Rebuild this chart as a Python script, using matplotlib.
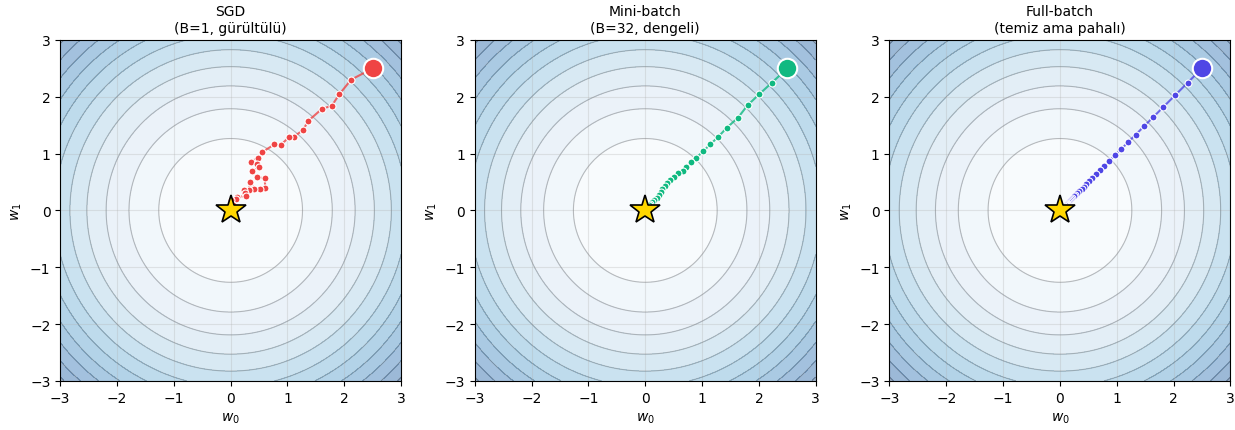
import numpy as np
import matplotlib
matplotlib.use('Agg')
import matplotlib.pyplot as plt

# loss surface grid
grid = np.linspace(-3, 3, 200)

# optimizer paths (w0, w1), starting at (2.5, 2.5)
sgd_w0 = [2.50, 2.12, 1.91, 1.78, 1.61, 1.36, 1.28, 1.12, 1.03, 0.88, 0.77, 0.56,
          0.48, 0.35, 0.47, 0.50, 0.38, 0.46, 0.60, 0.61, 0.52, 0.42, 0.34, 0.32,
          0.23, 0.26, 0.27, 0.12, 0.10, 0.00, 0.05]
sgd_w1 = [2.50, 2.30, 2.04, 1.84, 1.79, 1.57, 1.42, 1.30, 1.29, 1.15, 1.16, 1.03,
          0.92, 0.86, 0.81, 0.76, 0.69, 0.58, 0.57, 0.40, 0.38, 0.38, 0.50, 0.36,
          0.36, 0.31, 0.25, 0.24, 0.20, 0.19, 0.10]

mb_w0 = [2.50, 2.23, 2.00, 1.80, 1.63, 1.43, 1.28, 1.14, 1.02, 0.89, 0.81, 0.72,
         0.66, 0.58, 0.51, 0.44, 0.38, 0.34, 0.30, 0.27, 0.25, 0.20, 0.16, 0.12,
         0.08, 0.06, 0.04, 0.03]
mb_w1 = [2.50, 2.25, 2.04, 1.85, 1.63, 1.45, 1.29, 1.16, 1.04, 0.92, 0.85, 0.76,
         0.69, 0.65, 0.59, 0.53, 0.48, 0.43, 0.37, 0.32, 0.27, 0.22, 0.18, 0.15,
         0.12, 0.09, 0.06, 0.04]

fb_w0 = [2.50, 2.25, 2.03, 1.82, 1.64, 1.48, 1.33, 1.20, 1.08, 0.97, 0.87, 0.78,
         0.71, 0.64, 0.57, 0.51, 0.46, 0.42, 0.38, 0.34, 0.30, 0.27, 0.25, 0.22,
         0.20, 0.18, 0.16, 0.15, 0.13, 0.12, 0.11, 0.10, 0.09, 0.08, 0.07, 0.065,
         0.06, 0.05, 0.045, 0.04]
fb_w1 = list(fb_w0)

titles = ['SGD\n(B=1, gürültülü)', 'Mini-batch\n(B=32, dengeli)', 'Full-batch\n(temiz ama pahalı)']
colors = ['#ef4444', '#10b981', '#4f46e5']
paths = [(sgd_w0, sgd_w1), (mb_w0, mb_w1), (fb_w0, fb_w1)]

W0, W1 = np.meshgrid(grid, grid)
Z = W0**2 + W1**2

fig, axes = plt.subplots(1, 3, figsize=(12.35, 4.31), dpi=100)
fig.subplots_adjust(left=0.048, right=0.997, top=0.905, bottom=0.114, wspace=0.21)

for ax, title, color, (p0, p1) in zip(axes, titles, colors, paths):
    ax.contourf(W0, W1, Z, levels=np.arange(0, 19.3, 1.6), cmap='Blues', alpha=0.4)
    ax.contour(W0, W1, Z, levels=np.arange(1.6, 19, 1.6), colors='gray', linewidths=0.8, alpha=0.5)
    ax.plot(p0, p1, '-', color=color, lw=1.5, alpha=0.8, zorder=3)
    ax.plot(p0, p1, 'o', color=color, ms=5, mec='white', mew=0.8, zorder=4)
    ax.plot(p0[0], p1[0], 'o', color=color, ms=14, mec='white', mew=1.5, zorder=5)
    ax.plot(0, 0, '*', color='gold', ms=22, mec='black', mew=1.2, zorder=6)
    ax.set_xlim(-3, 3)
    ax.set_ylim(-3, 3)
    ax.set_aspect('equal')
    ax.grid(True, alpha=0.3)
    ax.set_title(title, fontsize=10)
    ax.set_xlabel('$w_0$')
    ax.set_ylabel('$w_1$')

plt.savefig('out.png', dpi=100)
